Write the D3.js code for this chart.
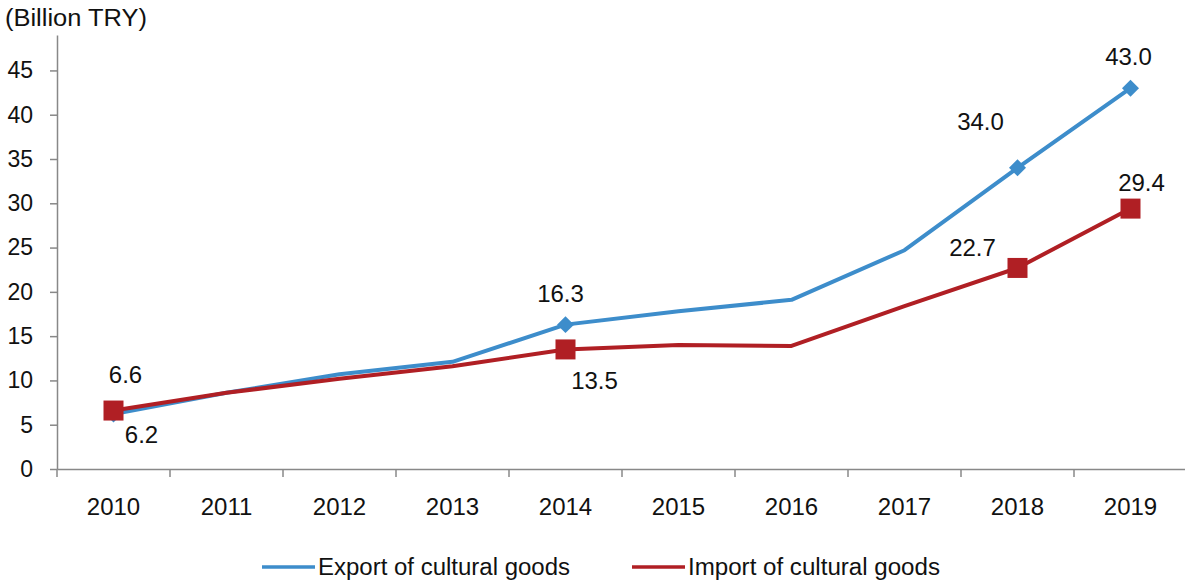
<!DOCTYPE html>
<html><head><meta charset="utf-8">
<script src="https://cdn.jsdelivr.net/npm/d3@7"></script>
<style>body{margin:0;background:#fff}svg{display:block}text{font-family:"Liberation Sans",Arial,sans-serif;fill:#111}</style>
</head><body>
<svg id="c" width="1185" height="588"></svg>
<script>
const years = ["2010","2011","2012","2013","2014","2015","2016","2017","2018","2019"];
const exportVals = [6.2, 8.6, 10.7, 12.1, 16.3, 17.8, 19.1, 24.7, 34.0, 43.0];
const importVals = [6.6, 8.6, 10.2, 11.6, 13.5, 14.0, 13.9, 18.4, 22.7, 29.4];
const yTicks = [0,5,10,15,20,25,30,35,40,45];
const exportLabels = [{i:0,t:"6.2",dx:28,dy:21},{i:4,t:"16.3",dx:-5,dy:-31},{i:8,t:"34.0",dx:-37,dy:-46},{i:9,t:"43.0",dx:-2,dy:-32}];
const importLabels = [{i:0,t:"6.6",dx:12,dy:-36},{i:4,t:"13.5",dx:29,dy:31},{i:8,t:"22.7",dx:-45,dy:-20},{i:9,t:"29.4",dx:11,dy:-26}];
const markerIdx = [0,4,8,9];
const seriesNames = ["Export of cultural goods","Import of cultural goods"];
const colors = ["#3d8dcb","#b01f24"];

const svg = d3.select("#c");
const mLeft = 57, mRight = 1187, mTop = 35, mBottom = 469;
const x = d3.scaleBand().domain(years).range([mLeft, mRight]);
const y = d3.scaleLinear().domain([0, 49]).range([mBottom, mTop]);

// y axis
const yAxis = svg.append("g").attr("transform",`translate(${mLeft},0)`)
  .call(d3.axisLeft(y).tickValues(yTicks).tickSize(7).tickSizeOuter(0).tickPadding(17));
yAxis.select(".domain").attr("stroke","#888").attr("stroke-width",1.5);
yAxis.selectAll(".tick line").attr("stroke","#888").attr("stroke-width",1.5);
yAxis.selectAll(".tick text").style("font-size","23px").attr("fill","#111");

// x axis
const xAxis = svg.append("g").attr("transform",`translate(0,${mBottom})`)
  .call(d3.axisBottom(x).tickSize(0).tickPadding(29));
xAxis.select(".domain").attr("stroke","#888").attr("stroke-width",1.5);
xAxis.selectAll(".tick text").style("font-size","24px").attr("fill","#111");
const bounds = years.map(d => x(d)).concat([mRight]);
svg.append("g").selectAll("line").data(bounds).join("line")
  .attr("x1",d=>d).attr("x2",d=>d).attr("y1",mBottom).attr("y2",mBottom+8)
  .attr("stroke","#888").attr("stroke-width",1.5);

svg.append("text").attr("x",5).attr("y",26).style("font-size","23px")
  .attr("textLength",142).attr("lengthAdjust","spacingAndGlyphs").text("(Billion TRY)");

const cx = d => x(d) + x.bandwidth()/2;
const line = d3.line().x((v,i)=>cx(years[i])).y(v=>y(v));

svg.append("path").datum(exportVals).attr("d",line).attr("fill","none")
  .attr("stroke",colors[0]).attr("stroke-width",4).attr("stroke-linejoin","round");
svg.append("path").datum(importVals).attr("d",line).attr("fill","none")
  .attr("stroke",colors[1]).attr("stroke-width",4).attr("stroke-linejoin","round");

// export diamonds
svg.append("g").selectAll("path").data(markerIdx).join("path")
  .attr("transform",i=>`translate(${cx(years[i])},${y(exportVals[i])}) rotate(45)`)
  .attr("d","M-6,-6H6V6H-6Z").attr("fill",colors[0]);
// import squares
svg.append("g").selectAll("rect").data(markerIdx).join("rect")
  .attr("x",i=>cx(years[i])-10).attr("y",i=>y(importVals[i])-10)
  .attr("width",20).attr("height",20).attr("fill",colors[1]);

// data labels
svg.append("g").selectAll("text").data(exportLabels).join("text")
  .attr("x",d=>cx(years[d.i])+d.dx).attr("y",d=>y(exportVals[d.i])+d.dy)
  .attr("text-anchor","middle").attr("dy","0.35em").style("font-size","24px").text(d=>d.t);
svg.append("g").selectAll("text").data(importLabels).join("text")
  .attr("x",d=>cx(years[d.i])+d.dx).attr("y",d=>y(importVals[d.i])+d.dy)
  .attr("text-anchor","middle").attr("dy","0.35em").style("font-size","24px").text(d=>d.t);

// legend
const legX = [262, 632];
const lg = svg.append("g").selectAll("g").data(seriesNames).join("g")
  .attr("transform",(d,i)=>`translate(${legX[i]},567)`);
lg.append("line").attr("x1",0).attr("x2",53).attr("stroke",(d,i)=>colors[i]).attr("stroke-width",3.5);
lg.append("text").attr("x",56).attr("y",8).style("font-size","23px")
  .attr("textLength",252).attr("lengthAdjust","spacingAndGlyphs").text(d=>d);
</script>
</body></html>
